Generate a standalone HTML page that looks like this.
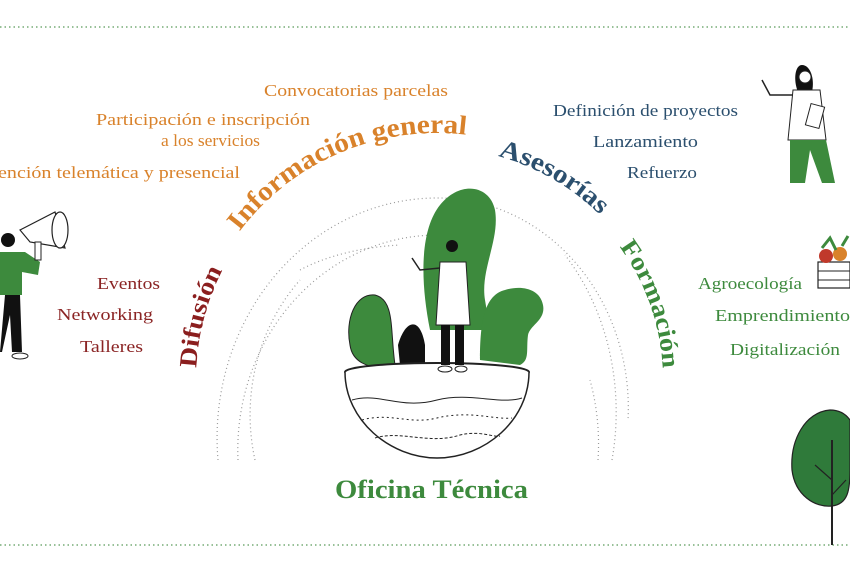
<!DOCTYPE html>
<html><head><meta charset="utf-8"><style>
html,body{margin:0;padding:0;background:#fff;}
svg{display:block;font-family:"Liberation Serif","DejaVu Serif",serif;}
</style></head><body>
<svg width="850" height="570" viewBox="0 0 850 570" xmlns="http://www.w3.org/2000/svg">
<defs>
<path id="a1" d="M196,380 A241,241 0 1 1 678,380 A241,241 0 1 1 196,380"/>
<path id="a2" d="M190,380 A247,247 0 1 1 684,380 A247,247 0 1 1 190,380"/>
<path id="a3" d="M205,380 A232,232 0 1 1 669,380 A232,232 0 1 1 205,380"/>
<path id="a4" d="M211,380 A226,226 0 1 1 663,380 A226,226 0 1 1 211,380"/>
</defs>
<line x1="0" y1="27" x2="850" y2="27" stroke="#5a9a5a" stroke-width="1.2" stroke-dasharray="1.5 3"/>
<line x1="0" y1="545" x2="850" y2="545" stroke="#5a9a5a" stroke-width="1.2" stroke-dasharray="1.5 3"/>

<g fill="none" stroke="#999" stroke-width="1.2" stroke-dasharray="1 3">
<path d="M218,460 A220,240 0 0 1 437,198 A190,210 0 0 1 628,420"/>
<path d="M238,460 A200,215 0 0 1 437,235"/>
<path d="M255,460 A180,195 0 0 1 300,280"/>
<path d="M300,270 A160,80 0 0 1 400,245"/>
<path d="M612,460 A190,230 0 0 0 565,255"/>
<path d="M598,460 A180,210 0 0 0 590,380"/>
</g>

<g font-weight="bold">
<text font-size="25" fill="#8b1e1e"><textPath href="#a1" startOffset="12" textLength="102" lengthAdjust="spacingAndGlyphs">Difusión</textPath></text>
<text font-size="27" fill="#d9822b"><textPath href="#a2" startOffset="159" textLength="258" lengthAdjust="spacingAndGlyphs">Información general</textPath></text>
<text font-size="26" fill="#2b4f6e"><textPath href="#a3" startOffset="426" textLength="119" lengthAdjust="spacingAndGlyphs">Asesorías</textPath></text>
<text font-size="25" fill="#3d8a3d"><textPath href="#a4" startOffset="567" textLength="131" lengthAdjust="spacingAndGlyphs">Formación</textPath></text>
</g>

<g font-size="17" fill="#d9822b" lengthAdjust="spacingAndGlyphs">
<text x="264" y="96" textLength="184" lengthAdjust="spacingAndGlyphs">Convocatorias parcelas</text>
<text x="96" y="125" textLength="214" lengthAdjust="spacingAndGlyphs">Participación e inscripción</text>
<text x="161" y="146" textLength="99" lengthAdjust="spacingAndGlyphs">a los servicios</text>
<text x="-22" y="178" textLength="262" lengthAdjust="spacingAndGlyphs">Atención telemática y presencial</text>
</g>
<g font-size="17" fill="#2b4f6e">
<text x="553" y="116" textLength="185" lengthAdjust="spacingAndGlyphs">Definición de proyectos</text>
<text x="593" y="147" textLength="105" lengthAdjust="spacingAndGlyphs">Lanzamiento</text>
<text x="627" y="178" textLength="70" lengthAdjust="spacingAndGlyphs">Refuerzo</text>
</g>
<g font-size="17" fill="#8b2525">
<text x="97" y="289" textLength="63" lengthAdjust="spacingAndGlyphs">Eventos</text>
<text x="57" y="320" textLength="96" lengthAdjust="spacingAndGlyphs">Networking</text>
<text x="80" y="352" textLength="63" lengthAdjust="spacingAndGlyphs">Talleres</text>
</g>
<g font-size="17" fill="#3d8a3d">
<text x="698" y="289" textLength="104" lengthAdjust="spacingAndGlyphs">Agroecología</text>
<text x="715" y="321" textLength="135" lengthAdjust="spacingAndGlyphs">Emprendimiento</text>
<text x="730" y="355" textLength="110" lengthAdjust="spacingAndGlyphs">Digitalización</text>
</g>
<text x="335" y="498" font-size="26" font-weight="bold" fill="#3d8a3d" textLength="193" lengthAdjust="spacingAndGlyphs">Oficina Técnica</text>

<g>
<path d="M430,330 C420,280 420,230 440,205 C460,180 490,185 495,210 C500,240 480,270 485,300 L490,330 Z" fill="#3d8a3d"/>
<path d="M480,360 C480,320 485,295 505,290 C520,285 540,288 543,305 C546,320 530,325 528,335 C526,350 530,360 520,365 Z" fill="#3d8a3d"/>
<path d="M395,365 C390,330 395,300 375,295 C355,293 345,320 350,345 C352,360 365,370 395,368 Z" fill="#3d8a3d" stroke="#222" stroke-width="1"/>
<path d="M398,345 C405,320 420,315 425,345 L425,365 L400,365 Z" fill="#111"/>
<ellipse cx="437" cy="372" rx="92" ry="9" fill="#fff" stroke="#222" stroke-width="2"/>
<path d="M345,372 C345,420 390,458 437,458 C485,458 529,420 529,372" fill="#fff" stroke="#222" stroke-width="1.5"/>
<path d="M352,400 C380,392 400,410 437,400 C470,392 500,405 522,398" fill="none" stroke="#222" stroke-width="1"/>
<path d="M362,420 C390,412 410,425 437,418 C470,410 495,420 512,418" fill="none" stroke="#222" stroke-width="1" stroke-dasharray="2 3"/>
<path d="M375,438 C400,430 430,445 460,435 C480,430 495,438 500,436" fill="none" stroke="#222" stroke-width="1" stroke-dasharray="3 2"/>
<circle cx="452" cy="246" r="6" fill="#111"/>
<path d="M440,262 L466,262 L470,325 L436,325 Z" fill="#fff" stroke="#222" stroke-width="1"/>
<rect x="441" y="325" width="9" height="40" fill="#111"/>
<rect x="455" y="325" width="9" height="40" fill="#111"/>
<ellipse cx="445" cy="369" rx="7" ry="3" fill="#fff" stroke="#222"/>
<ellipse cx="461" cy="369" rx="6" ry="3" fill="#fff" stroke="#222"/>
<path d="M440,268 L420,270 L412,258" fill="none" stroke="#222" stroke-width="1.5"/>
</g>

<g>
<circle cx="8" cy="240" r="7" fill="#111"/>
<path d="M0,252 L25,252 L40,262 L38,275 L22,272 L22,295 L0,295 Z" fill="#3d8a3d"/>
<path d="M5,295 L20,295 L22,352 L12,352 L10,315 L2,352 L0,352 Z" fill="#111"/>
<ellipse cx="20" cy="356" rx="8" ry="3" fill="#fff" stroke="#222"/>
<path d="M20,230 L55,212 L65,248 L30,242 Z" fill="#fff" stroke="#222" stroke-width="1.2"/>
<ellipse cx="60" cy="230" rx="8" ry="18" fill="#fff" stroke="#222" stroke-width="1.2"/>
<rect x="35" y="242" width="6" height="18" fill="#fff" stroke="#222"/>
</g>

<g>
<path d="M802,65 C795,65 793,80 798,92 L812,92 C815,78 810,65 802,65 Z" fill="#111"/>
<circle cx="805" cy="77" r="6" fill="#fff" stroke="#222"/>
<path d="M793,90 L820,90 L826,140 L788,140 Z" fill="#fff" stroke="#222" stroke-width="1"/>
<path d="M790,140 L826,140 L835,183 L822,183 L810,150 L805,183 L790,183 Z" fill="#3d8a3d"/>
<path d="M793,95 L770,95 L762,80" fill="none" stroke="#222" stroke-width="1.5"/>
<rect x="808" y="105" width="14" height="22" fill="#fff" stroke="#222" transform="rotate(15 815 116)"/>
</g>

<g>
<rect x="818" y="262" width="32" height="26" fill="#fff" stroke="#222" stroke-width="1.2"/>
<line x1="818" y1="271" x2="850" y2="271" stroke="#222"/>
<line x1="818" y1="280" x2="850" y2="280" stroke="#222"/>
<circle cx="826" cy="256" r="7" fill="#c0392b"/>
<circle cx="840" cy="254" r="7" fill="#d9822b"/>
<path d="M822,248 L830,238 L836,250 M842,246 L848,236" stroke="#3d8a3d" stroke-width="3" fill="none"/>
</g>

<g>
<path d="M830,410 C805,412 790,440 792,470 C795,495 815,508 832,506 C848,504 850,490 850,470 L850,420 C845,413 838,410 830,410 Z" fill="#2f7a3a" stroke="#222" stroke-width="1.2"/>
<line x1="832" y1="440" x2="832" y2="545" stroke="#222" stroke-width="2"/>
<path d="M832,480 L815,465 M832,495 L846,480" stroke="#222" stroke-width="1.2" fill="none"/>
</g>
</svg>
</body></html>
